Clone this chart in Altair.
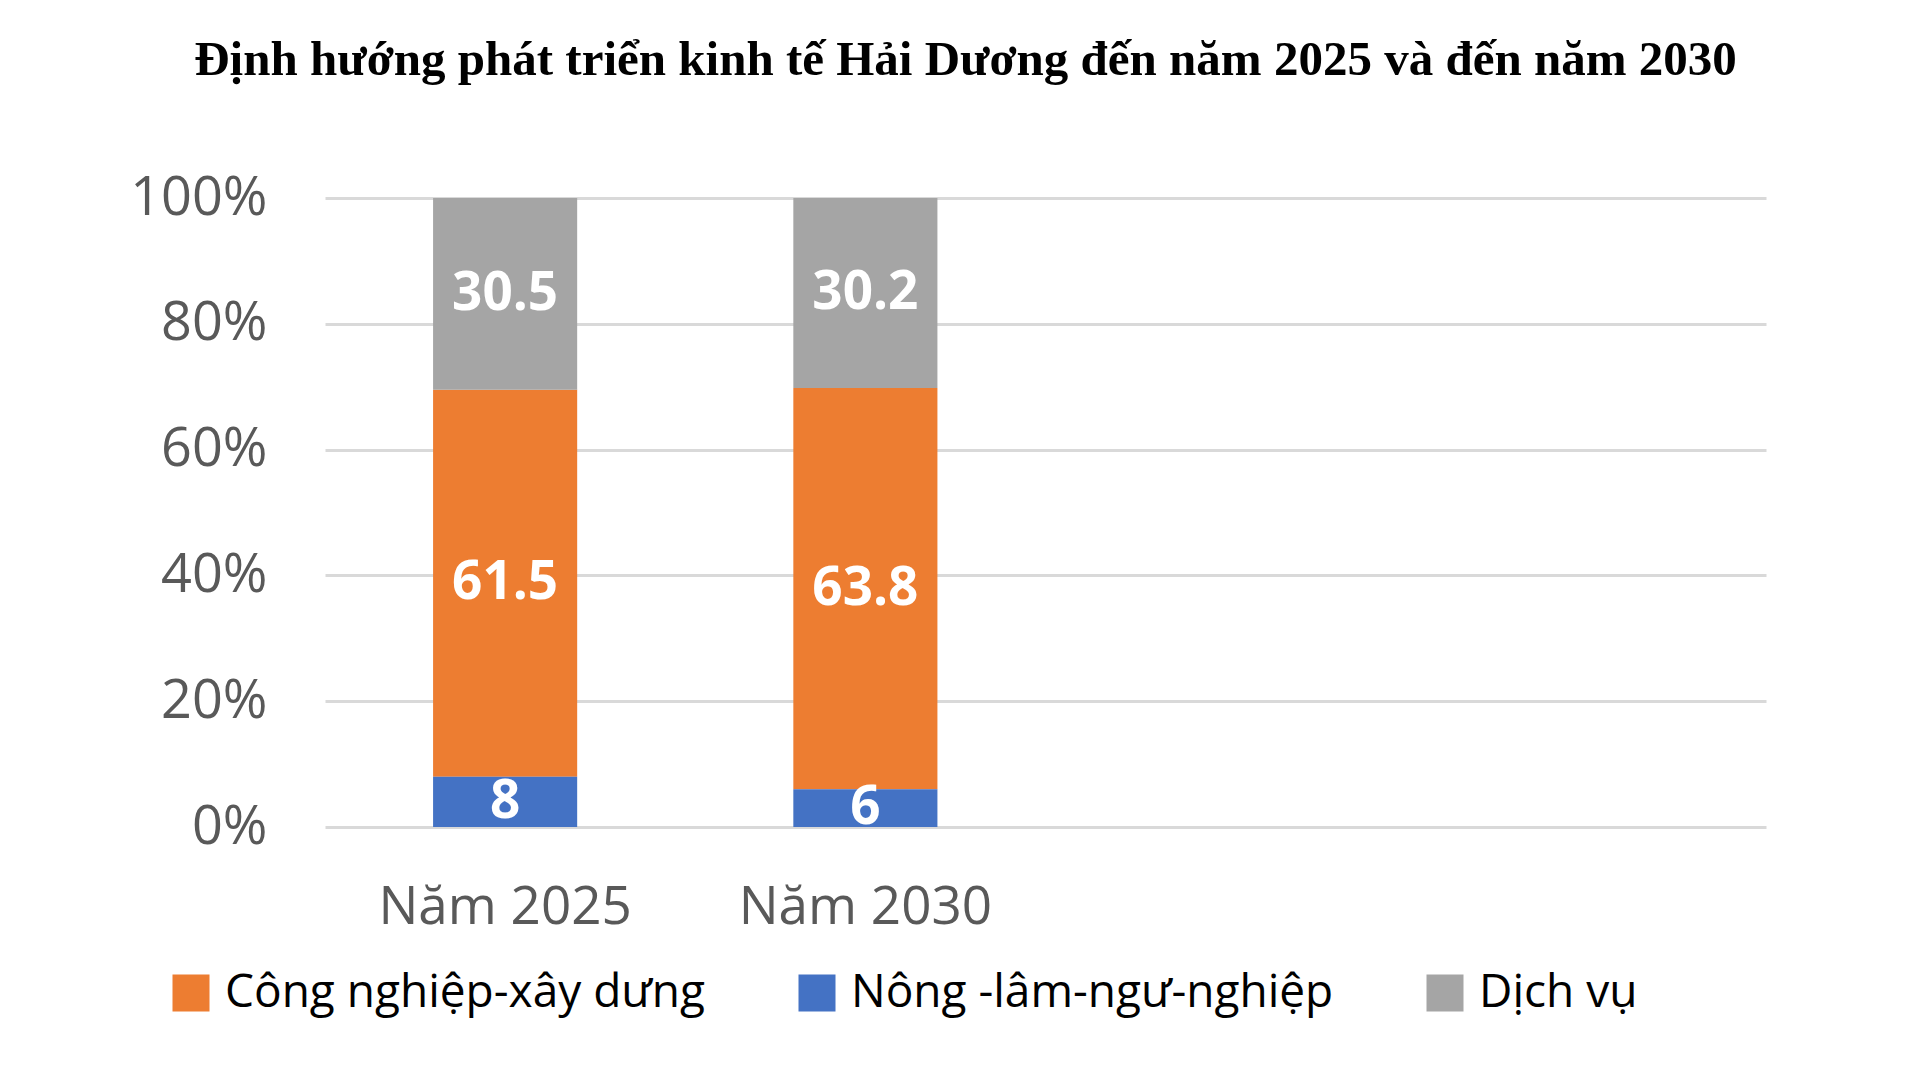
import altair as alt
import pandas as pd

# ---- data ----
years = ["Năm 2025", "Năm 2030"]
sectors = ["Công nghiệp-xây dưng", "Nông -lâm-ngư-nghiệp", "Dịch vụ"]
industry = [61.5, 63.8]
agriculture = [8, 6]
services = [30.5, 30.2]
stack_rank = [1, 0, 2]          # position of each sector in the stack (0 = bottom)
colors = ["#ED7D31", "#4472C4", "#A5A5A5"]
x_domain = years + [" ", "  "]  # Excel category axis has two empty slots
y_ticks = [0, 0.2, 0.4, 0.6, 0.8, 1.0]
title_text = "Định hướng phát triển kinh tế Hải Dương đến năm 2025 và đến năm 2030"

rows = []
for i, yr in enumerate(years):
    for s, vals, r in zip(sectors, [industry, agriculture, services], stack_rank):
        rows.append({"year": yr, "sector": s, "value": vals[i], "rank": r,
                     "label": f"{vals[i]:g}"})
df = pd.DataFrame(rows)

FONT = "Open Sans"

base = alt.Chart(df).transform_stack(
    stack="value",
    groupby=["year"],
    sort=[alt.SortField("rank", order="ascending")],
    as_=["y0", "y1"],
    offset="normalize",
).transform_calculate(mid="(datum.y0 + datum.y1) / 2")

x_enc = alt.X(
    "year:N",
    scale=alt.Scale(domain=x_domain, paddingInner=0.6, paddingOuter=0.3),
    axis=alt.Axis(title=None, labelAngle=0, labelFont=FONT, labelFontSize=53,
                  labelColor="#595959", labelPadding=54, ticks=False,
                  domain=False, grid=False, labelLimit=0),
)

bars = base.mark_bar().encode(
    x=x_enc,
    y=alt.Y("y0:Q", scale=alt.Scale(domain=[0, 1]),
            axis=alt.Axis(title=None, values=y_ticks, format=".0%",
                          labelFont=FONT, labelFontSize=54, labelColor="#595959",
                          labelPadding=58, ticks=False, domain=False, grid=True,
                          gridColor="#D9D9D9", gridWidth=3)),
    y2="y1:Q",
    color=alt.Color(
        "sector:N",
        scale=alt.Scale(domain=sectors, range=colors),
        legend=alt.Legend(title=None, orient="none", legendX=-157, legendY=772,
                          direction="horizontal", columns=3, symbolType="square",
                          symbolSize=1369, symbolStrokeWidth=0, labelFont=FONT,
                          labelFontSize=46, labelColor="black", labelOffset=11,
                          columnPadding=88, padding=0, labelLimit=0),
    ),
)

labels = base.mark_text(
    color="white", font=FONT, fontWeight="bold", fontSize=53, baseline="middle"
).encode(x=alt.X("year:N", scale=alt.Scale(domain=x_domain)), y="mid:Q", text="label:N")

chart = alt.layer(bars, labels).properties(
    width=1441,
    height=629,
    autosize=alt.AutoSizeParams(type="none"),
    padding={"left": 317, "top": 190, "right": 146, "bottom": 240},
    title=alt.TitleParams(text=title_text, font="Liberation Serif", fontSize=49,
                          fontWeight="bold", color="black", anchor="middle",
                          frame="group", dx=-80, offset=86),
).configure(background="white").configure_view(strokeWidth=0, stroke="transparent")

chart.save("out.html", embed_options={"renderer": "svg", "actions": False})
